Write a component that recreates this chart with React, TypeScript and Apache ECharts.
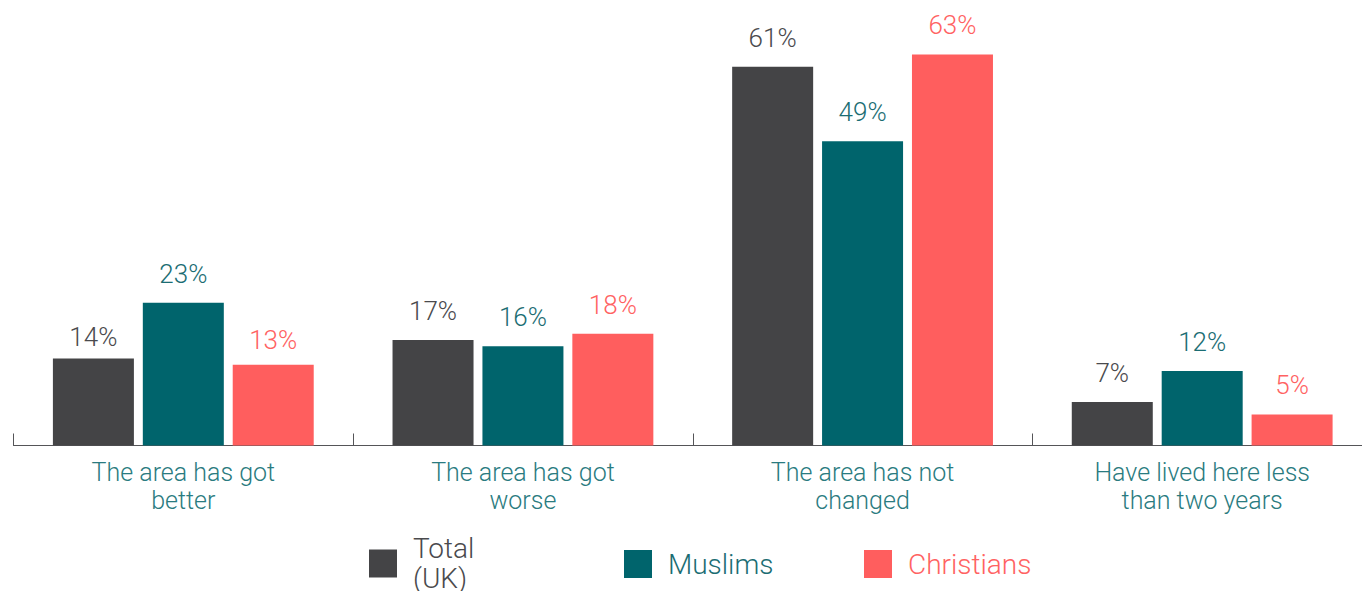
import React, { useEffect, useRef } from "react";
import * as echarts from "echarts";

const categories = [
  "The area has got\nbetter",
  "The area has got\nworse",
  "The area has not\nchanged",
  "Have lived here less\nthan two years",
];
const totalUK = [14, 17, 61, 7];
const muslims = [23, 16, 49, 12];
const christians = [13, 18, 63, 5];

const seriesNames = ["Total\n(UK)", "Muslims", "Christians"];
const colors = ["#444446", "#00646c", "#ff5e5e"];
const labelColors = ["#4a4a4d", "#1b6d73", "#ff6262"];
const FONT = "Roboto, 'Helvetica Neue', Arial, sans-serif";

// label distance above bar per series/category (styling only)
const labelDistances = [
  [9, 16, 16, 16],
  [16, 16, 16, 16],
  [12, 16, 16, 16],
];

export default function App() {
  const ref = useRef<HTMLDivElement>(null);
  useEffect(() => {
    if (!ref.current) return;
    const chart = echarts.init(ref.current, undefined, { renderer: "svg" });
    const data = [totalUK, muslims, christians];
    const legendLefts = [369, 624, 864];
    const legendTops = [533.5, 549, 549];
    chart.setOption({
      animation: false,
      grid: { left: 13.5, right: 0, top: 11, bottom: 145.5, containLabel: false },
      xAxis: {
        type: "category",
        data: categories,
        axisLine: { lineStyle: { color: "#555558", width: 1 } },
        axisTick: { show: true, inside: true, length: 12, lineStyle: { color: "#555558" } },
        axisLabel: {
          color: "#2a7b80",
          fontFamily: FONT,
          fontWeight: 300,
          fontSize: 25,
          lineHeight: 28,
          margin: 13,
          interval: 0,
        },
      },
      yAxis: {
        type: "value",
        min: 0,
        max: 70,
        show: false,
        splitLine: { show: false },
      },
      legend: seriesNames.map((n, i) => ({
        data: [n],
        left: legendLefts[i],
        top: legendTops[i],
        padding: 0,
        itemWidth: 28,
        itemHeight: 28,
        icon: "rect",
        selectedMode: false,
        textStyle: {
          color: labelColors[i],
          fontFamily: FONT,
          fontWeight: 300,
          fontSize: 28,
          lineHeight: 30,
          padding: [0, 0, 0, 11],
        },
      })),
      series: seriesNames.map((n, i) => ({
        name: n,
        type: "bar",
        data: data[i].map((v, j) => ({ value: v, label: { distance: labelDistances[i][j] } })),
        barWidth: 81,
        barGap: "11%",
        itemStyle: { color: colors[i] },
        label: {
          show: true,
          position: "top",
          distance: 16,
          formatter: "{c}%",
          color: labelColors[i],
          fontFamily: FONT,
          fontWeight: 300,
          fontSize: 26,
        },
      })),
    });
    return () => chart.dispose();
  }, []);
  return (
    <div style={{ position: "absolute", left: 0, top: 0, width: 1362, height: 591, overflow: "hidden", background: "#fff" }}>
      <div ref={ref} style={{ width: 1372, height: 591 }} />
    </div>
  );
}
